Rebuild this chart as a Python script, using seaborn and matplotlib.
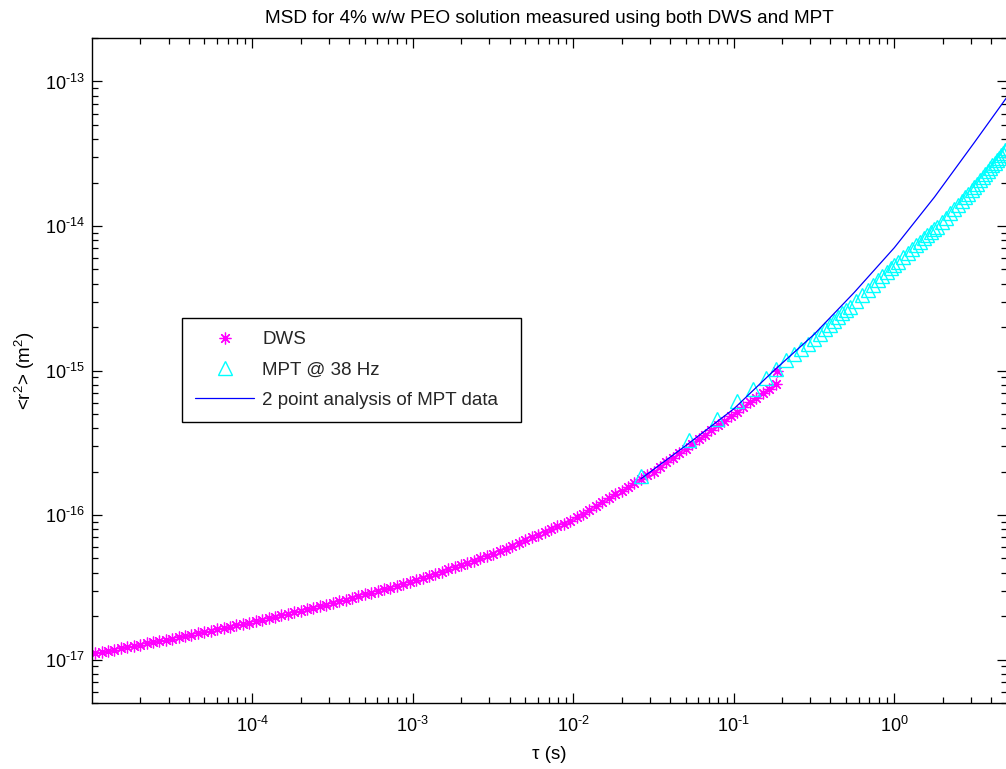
import numpy as np
import pandas as pd
import matplotlib
matplotlib.use("Agg")
import matplotlib.pyplot as plt
import seaborn as sns
from matplotlib.ticker import LogLocator, NullFormatter, FixedLocator, FuncFormatter

# ---------------- data ----------------
# DWS: log10(tau [s]) and log10(MSD [m^2])
dws_log_tau = [-4.98, -4.94, -4.90, -4.86, -4.82, -4.78, -4.74, -4.70, -4.66, -4.62,
               -4.58, -4.54, -4.50, -4.46, -4.42, -4.38, -4.34, -4.30, -4.26, -4.22,
               -4.18, -4.14, -4.10, -4.06, -4.02, -3.98, -3.94, -3.90, -3.86, -3.82,
               -3.78, -3.74, -3.70, -3.66, -3.62, -3.58, -3.54, -3.50, -3.46, -3.42,
               -3.38, -3.34, -3.30, -3.26, -3.22, -3.18, -3.14, -3.10, -3.06, -3.02,
               -2.98, -2.94, -2.90, -2.86, -2.82, -2.78, -2.74, -2.70, -2.66, -2.62,
               -2.58, -2.54, -2.50, -2.46, -2.42, -2.38, -2.34, -2.30, -2.26, -2.22,
               -2.18, -2.14, -2.10, -2.06, -2.02, -1.98, -1.94, -1.90, -1.86, -1.82,
               -1.78, -1.74, -1.70, -1.66, -1.62, -1.58, -1.54, -1.50, -1.46, -1.42,
               -1.38, -1.34, -1.30, -1.26, -1.22, -1.18, -1.14, -1.10, -1.06, -1.02,
               -0.98, -0.94, -0.90, -0.86, -0.82, -0.78, -0.74, -0.73]
dws_log_msd = [-16.956, -16.947, -16.939, -16.931, -16.922, -16.914, -16.905, -16.897, -16.889, -16.880,
               -16.872, -16.863, -16.855, -16.846, -16.837, -16.827, -16.818, -16.809, -16.800, -16.791,
               -16.781, -16.772, -16.763, -16.754, -16.745, -16.735, -16.724, -16.714, -16.704, -16.693,
               -16.683, -16.672, -16.662, -16.652, -16.641, -16.631, -16.620, -16.610, -16.598, -16.586,
               -16.574, -16.562, -16.550, -16.538, -16.526, -16.514, -16.502, -16.490, -16.478, -16.466,
               -16.452, -16.437, -16.422, -16.407, -16.392, -16.376, -16.361, -16.346, -16.331, -16.316,
               -16.300, -16.285, -16.270, -16.251, -16.232, -16.212, -16.193, -16.174, -16.155, -16.136,
               -16.116, -16.097, -16.078, -16.059, -16.040, -16.017, -15.990, -15.964, -15.938, -15.911,
               -15.885, -15.858, -15.832, -15.806, -15.779, -15.753, -15.726, -15.700, -15.668, -15.636,
               -15.604, -15.572, -15.540, -15.508, -15.476, -15.444, -15.412, -15.380, -15.348, -15.316,
               -15.284, -15.253, -15.221, -15.190, -15.159, -15.127, -15.096, -15.000]

# MPT @ 38 Hz: frame lag numbers and log10(MSD)
mpt_rate_hz = 38.0
mpt_frames = [1, 2, 3, 4, 5, 6, 7, 8, 9, 10, 11, 12, 13, 14, 15, 16, 17, 18, 19, 20,
              22, 24, 26, 28, 30, 32, 34, 36, 38, 40,
              43, 46, 49, 52, 55, 58, 61, 64, 67, 70,
              75, 80, 85, 90, 95, 100, 105, 110, 115, 120, 125, 130, 135, 140, 145,
              150, 155, 160, 165, 170, 175, 180, 185, 190]
mpt_log_msd = [-15.730, -15.480, -15.335, -15.210, -15.130, -15.050, -14.990, -14.930, -14.887, -14.849,
               -14.815, -14.781, -14.746, -14.714, -14.684, -14.656, -14.629, -14.605, -14.581, -14.559,
               -14.516, -14.477, -14.441, -14.408, -14.376, -14.347, -14.320, -14.294, -14.270, -14.248,
               -14.216, -14.187, -14.160, -14.134, -14.109, -14.086, -14.064, -14.044, -14.024, -14.005,
               -13.975, -13.942, -13.910, -13.881, -13.853, -13.826, -13.800, -13.776, -13.753, -13.731,
               -13.707, -13.684, -13.662, -13.640, -13.620, -13.600, -13.581, -13.562, -13.544, -13.526,
               -13.509, -13.493, -13.477, -13.461]

# 2 point analysis of MPT data
fit_log_tau = [-1.58, -1.30, -1.00, -0.75, -0.50, -0.25, 0.00, 0.25, 0.50, 0.72]
fit_log_msd = [-15.75, -15.52, -15.265, -15.00, -14.75, -14.46, -14.15, -13.80, -13.42, -13.08]

x_tick_exps = [-4, -3, -2, -1, 0]
y_tick_exps = [-17, -16, -15, -14, -13]

title_text = "MSD for 4% w/w PEO solution measured using both DWS and MPT"
xlabel_text = "\u03c4 (s)"
ylabel_text = "<r$^2$> (m$^2$)"
labels = ["DWS", "MPT @ 38 Hz", "2 point analysis of MPT data"]

# ---------------- style ----------------
sns.set_style("ticks")
plt.rcParams["font.family"] = ["Liberation Sans", "DejaVu Sans"]
plt.rcParams["mathtext.fontset"] = "custom"
plt.rcParams["mathtext.rm"] = "Liberation Sans"
plt.rcParams["mathtext.it"] = "Liberation Sans:italic"
plt.rcParams["mathtext.bf"] = "Liberation Sans:bold"
plt.rcParams["axes.unicode_minus"] = False

dws = pd.DataFrame({"tau": np.power(10.0, dws_log_tau), "msd": np.power(10.0, dws_log_msd)})
mpt = pd.DataFrame({"tau": np.array(mpt_frames) / mpt_rate_hz, "msd": np.power(10.0, mpt_log_msd)})
fit = pd.DataFrame({"tau": np.power(10.0, fit_log_tau), "msd": np.power(10.0, fit_log_msd)})

W, H = 1006, 769
fig = plt.figure(figsize=(W / 100, H / 100), dpi=100)
fig.patch.set_facecolor("white")
left, right, top, bottom = 92, 1006.5, 38, 703
ax = fig.add_axes([left / W, (H - bottom) / H, (right - left) / W, (bottom - top) / H])
ax.set_facecolor("white")
ax.set_xscale("log")
ax.set_yscale("log")

sns.lineplot(data=dws, x="tau", y="msd", ax=ax, estimator=None, sort=False,
             linestyle="none", marker=(8, 2, 0), markersize=8.5, markeredgewidth=0.9,
             color="#ff00ff", markeredgecolor="#ff00ff", label=labels[0])
sns.lineplot(data=mpt, x="tau", y="msd", ax=ax, estimator=None, sort=False,
             linestyle="none", marker="^", markersize=9.5, markeredgewidth=1.0,
             color="#00ffff", markeredgecolor="#00ffff", markerfacecolor="none", label=labels[1])
sns.lineplot(data=fit, x="tau", y="msd", ax=ax, estimator=None, sort=False,
             color="#0000ff", linewidth=0.9, label=labels[2])

ax.set_xlim(1e-5, 5.0)
ax.set_ylim(5e-18, 2e-13)


def pow10_label(v, pos):
    e = int(round(np.log10(v)))
    if e < 0:
        return r"$\mathdefault{10^{\text{-}%d}}$" % (-e)
    return r"$\mathdefault{10^{%d}}$" % e


ax.xaxis.set_major_locator(FixedLocator([10.0 ** e for e in x_tick_exps]))
ax.yaxis.set_major_locator(FixedLocator([10.0 ** e for e in y_tick_exps]))
for a in (ax.xaxis, ax.yaxis):
    a.set_major_formatter(FuncFormatter(pow10_label))
    a.set_minor_locator(LogLocator(base=10, subs=np.arange(2, 10), numticks=50))
    a.set_minor_formatter(NullFormatter())

ax.tick_params(which="both", direction="in", top=True, right=True, colors="black",
               labelsize=13)
ax.tick_params(which="major", length=7.2, width=0.9)
ax.tick_params(which="minor", length=4.3, width=0.9)
ax.tick_params(axis="x", which="major", pad=9.5)
ax.tick_params(axis="y", which="major", pad=5)
for s in ax.spines.values():
    s.set_visible(True)
    s.set_color("black")
    s.set_linewidth(1.0)

ax.set_title(title_text, fontsize=13.7, pad=11, color="black")
ax.set_xlabel(xlabel_text, fontsize=13.5, labelpad=7, color="black")
ax.set_ylabel(ylabel_text, fontsize=13.5, labelpad=5.5, color="black")

leg = ax.legend(loc="upper left", bbox_to_anchor=(0.0985, 0.579, 0.371, 0.0), mode="expand",
                borderaxespad=0, frameon=True, fancybox=False, edgecolor="black",
                framealpha=1, fontsize=13.5, handlelength=3.16, handletextpad=0.42,
                labelspacing=0.70, borderpad=0.7, numpoints=1)
leg.get_frame().set_linewidth(1.0)

fig.savefig("out.png", dpi=100, facecolor="white")
